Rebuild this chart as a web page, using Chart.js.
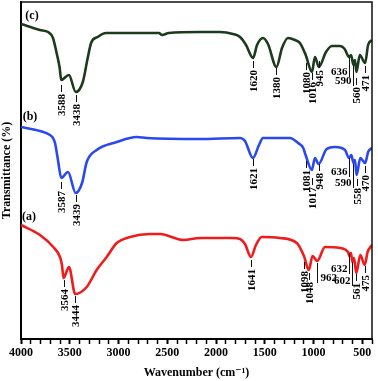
<!DOCTYPE html>
<html>
<head>
<meta charset="utf-8">
<script src="https://cdn.jsdelivr.net/npm/chart.js@4.4.1/dist/chart.umd.min.js"></script>
<style>
  html, body { margin: 0; padding: 0; background: #fff; }
  #wrap { width: 378px; height: 381px; }
</style>
</head>
<body>
<div id="wrap"><canvas id="ftir" width="378" height="381"></canvas></div>
<script>
// spectrum (c)
var wnC = [4000, 3807, 3722, 3672, 3637, 3603, 3588, 3509, 3438, 3366, 3316, 3281, 3214, 3128, 2993, 2586, 2553, 2485, 2164,
  1959, 1826, 1754, 1692, 1620, 1579, 1518, 1467, 1380, 1323, 1262, 1190, 1139, 1080, 1016, 985, 945, 872, 810, 728, 680,
  636, 615, 590, 575, 560, 525, 471, 440, 400];
var tC = [315, 309, 307, 301, 287, 271, 259, 264, 247, 257, 281, 296, 302, 306, 306, 306, 304, 306, 307,
  307, 305, 302, 294, 281, 294, 301, 295, 272, 291, 301, 299, 296, 284, 267, 282, 272, 287, 293, 293, 290,
  282, 284, 274, 279, 267, 284, 276, 294, 299];

// spectrum (b)
var wnB = [4000, 3805, 3703, 3672, 3651, 3621, 3587, 3518, 3439, 3374, 3326, 3224, 3018, 2813, 2711, 2164,
  1754, 1703, 1621, 1559, 1518, 1241, 1159, 1105, 1081, 1017, 985, 948, 865, 780, 677,
  636, 612, 590, 575, 558, 520, 470, 440, 400];
var tB = [212, 208, 204, 201, 196, 179, 161, 167, 146, 156, 177, 189, 197, 202, 201, 200,
  201, 198, 181, 194, 201, 201, 196, 191, 184, 169, 181, 175, 190, 192, 189,
  181, 184, 176, 179, 164, 181, 176, 187, 191];

// spectrum (a)
var wnA = [4000, 3805, 3669, 3600, 3580, 3564, 3508, 3444, 3326, 3224, 3121, 3018, 2882, 2677, 2574, 2335, 2164,
  1826, 1754, 1703, 1641, 1590, 1531, 1344, 1172, 1098, 1048, 1010, 962, 882, 728, 646,
  632, 615, 602, 585, 561, 520, 475, 445, 400];
var tA = [114, 104, 92, 82, 74, 61, 72, 45, 52, 69, 82, 96, 102, 105, 105, 99, 101,
  101, 100, 95, 82, 94, 102, 101, 96, 83, 69, 83, 78, 92, 91, 87,
  83, 86, 77, 81, 66, 84, 74, 87, 94];

// peak labels: [text, wavenumber, tick top, text level (horizontal only), side]
var peaksC = [['3588', 3588, 254], ['3438', 3438, 244], ['1620', 1620, 278], ['1380', 1380, 271],
  ['1080', 1080, 276], ['1016', 1016, 266], ['945', 945, 278],
  ['636', 636, 281, 267, 'left'], ['590', 590, 273, 258, 'left'], ['560', 560, 261], ['471', 471, 273]];
var peaksB = [['3587', 3587, 157], ['3439', 3439, 144], ['1621', 1621, 180], ['1081', 1081, 178],
  ['1017', 1017, 161], ['948', 948, 175],
  ['636', 636, 181, 167, 'left'], ['590', 590, 175, 156, 'left'], ['558', 558, 160], ['470', 470, 173]];
var peaksA = [['3564', 3564, 59], ['3444', 3444, 43], ['1641', 1641, 79], ['1098', 1098, 77],
  ['1048', 1048, 66], ['962', 962, 76, 61, 'right'],
  ['632', 632, 86, 70, 'left'], ['602', 602, 77, 58, 'left'], ['561', 561, 65], ['475', 475, 73]];

var seriesNames = ['(c)', '(b)', '(a)'];
var nameAt = [[3887, 323], [3908, 222], [3918, 122]];

function pts(wn, t) {
  return wn.map(function (w, i) { return { x: w, y: t[i] }; });
}

var serif = '"Liberation Serif", "DejaVu Serif", serif';

var peakPlugin = {
  id: 'peaks',
  afterDatasetsDraw: function (chart) {
    var ctx = chart.ctx;
    var xs = chart.scales.x, ys = chart.scales.y;
    var area = chart.chartArea;
    ctx.save();
    // box top/right
    ctx.strokeStyle = '#111';
    ctx.lineWidth = 1.5;
    ctx.beginPath();
    ctx.moveTo(area.left, area.top);
    ctx.lineTo(area.right, area.top);
    ctx.lineTo(area.right, area.bottom);
    ctx.stroke();

    ctx.fillStyle = '#000';
    ctx.font = 'bold 11px ' + serif;
    ctx.lineWidth = 1;
    [peaksC, peaksB, peaksA].forEach(function (list) {
      list.forEach(function (p) {
        var px = Math.round(xs.getPixelForValue(p[1])) + 0.5;
        var py = ys.getPixelForValue(p[2]);
        ctx.beginPath();
        if (p.length > 3) {
          var ty = ys.getPixelForValue(p[3]);
          ctx.moveTo(px, py);
          ctx.lineTo(px, ty + 5);
          ctx.stroke();
          ctx.textBaseline = 'middle';
          if (p[4] === 'right') {
            ctx.textAlign = 'left';
            ctx.fillText(p[0], px + 3, ty);
          } else {
            ctx.textAlign = 'right';
            ctx.fillText(p[0], px - 2, ty);
          }
        } else {
          ctx.moveTo(px, py);
          ctx.lineTo(px, py + 7);
          ctx.stroke();
          ctx.save();
          ctx.translate(px, py + 9);
          ctx.rotate(-Math.PI / 2);
          ctx.textAlign = 'right';
          ctx.textBaseline = 'alphabetic';
          // digits centred on the tick
          ctx.fillText(p[0], 0, 3.7);
          ctx.restore();
        }
      });
    });

    ctx.font = 'bold 12px ' + serif;
    ctx.textAlign = 'center';
    ctx.textBaseline = 'middle';
    seriesNames.forEach(function (n, i) {
      ctx.fillText(n, xs.getPixelForValue(nameAt[i][0]), ys.getPixelForValue(nameAt[i][1]));
    });
    ctx.restore();
  }
};

var ctx = document.getElementById('ftir').getContext('2d');
var chart = new Chart(ctx, {
  type: 'line',
  data: {
    datasets: [
      { label: 'c', data: pts(wnC, tC), borderColor: '#1c3a1c' },
      { label: 'b', data: pts(wnB, tB), borderColor: '#2a48f0' },
      { label: 'a', data: pts(wnA, tA), borderColor: '#f01c1c' }
    ]
  },
  options: {
    responsive: false,
    animation: false,
    layout: { padding: { top: 2, right: 6, left: 0, bottom: 0 } },
    elements: {
      line: { borderWidth: 2.6, cubicInterpolationMode: 'monotone', fill: false },
      point: { radius: 0 }
    },
    plugins: { legend: { display: false }, tooltip: { enabled: false } },
    scales: {
      x: {
        type: 'linear',
        reverse: true,
        min: 400,
        max: 4000,
        afterFit: function (s) { s.height = 42; },
        ticks: {
          stepSize: 100,
          maxTicksLimit: 100,
          autoSkip: false,
          maxRotation: 0,
          padding: 2,
          color: '#000',
          font: { family: serif, size: 12, weight: 'bold' },
          callback: function (v) { return v % 500 === 0 ? String(v) : ''; }
        },
        grid: {
          drawOnChartArea: false,
          drawTicks: true,
          tickLength: 5,
          tickColor: '#000',
          tickWidth: function (c) { return c.tick && c.tick.value % 500 === 0 ? 2 : 1.5; }
        },
        border: { color: '#000', width: 2 },
        title: {
          display: true,
          text: 'Wavenumber (cm\u207B\u00B9)',
          color: '#000',
          padding: { top: 0, bottom: 1 },
          font: { family: serif, size: 12, weight: 'bold' }
        }
      },
      y: {
        min: 0,
        max: 337,
        afterFit: function (s) { s.width = 21; },
        ticks: { display: false },
        grid: { display: false },
        border: { color: '#000', width: 2 },
        title: {
          display: true,
          text: 'Transmittance (%)',
          color: '#000',
          padding: 0,
          font: { family: serif, size: 12, weight: 'bold' }
        }
      }
    }
  },
  plugins: [peakPlugin]
});
</script>
</body>
</html>
